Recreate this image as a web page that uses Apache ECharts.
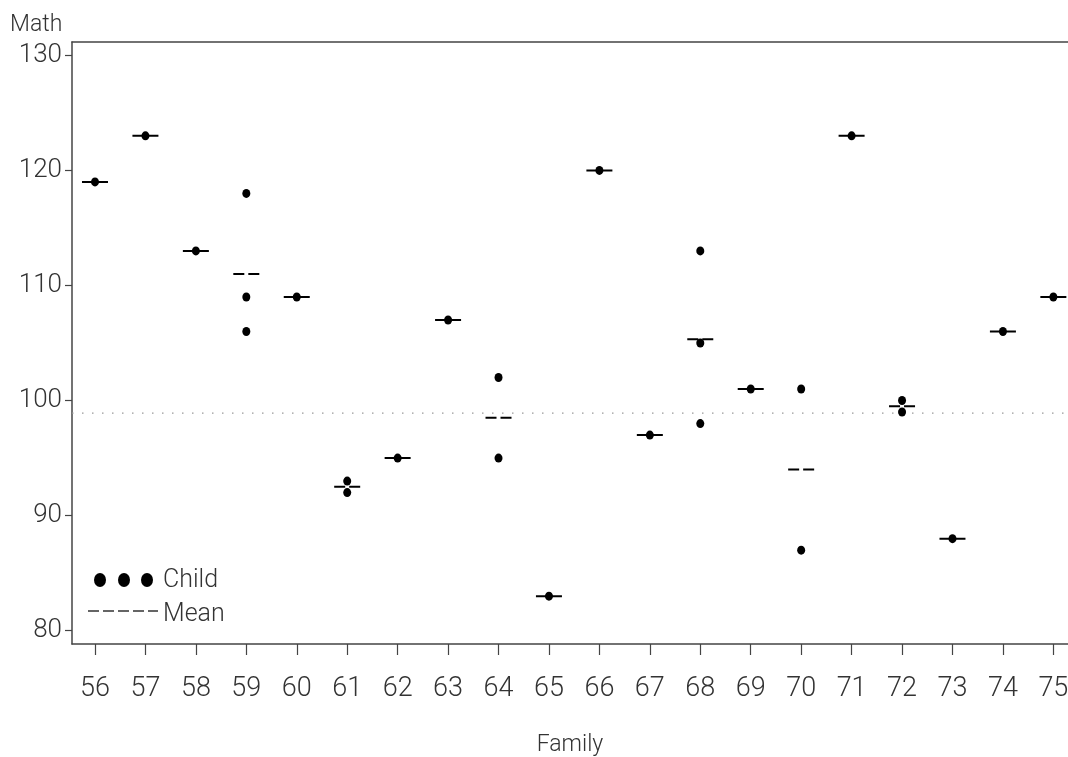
<!DOCTYPE html>
<html>
<head>
<meta charset="utf-8">
<script src="https://cdn.jsdelivr.net/npm/echarts@6/dist/echarts.min.js"></script>
<style>html,body{margin:0;padding:0;background:#fff}#c{width:1068px;height:757px}</style>
</head>
<body>
<div id="c"></div>
<script>
// ---- data ----
const families = [56,57,58,59,60,61,62,63,64,65,66,67,68,69,70,71,72,73,74,75];
const childScores = [
  [119],[123],[113],[118,109,106],[109],[93,92],[95],[107],[102,95],[83],
  [120],[97],[113,105,98],[101],[101,87],[123],[100,99],[88],[106],[109]
];
const familyMeans = [119,123,113,111,109,92.5,95,107,98.5,83,120,97,105.33,101,94,123,99.5,88,106,109];
const referenceLevel = [98.9];
const yTicks = [80,90,100,110,120,130];
const xTicks = families;

const childPoints = [];
families.forEach((f,i)=>childScores[i].forEach(v=>childPoints.push([f,v])));
const meanPoints = families.map((f,i)=>[f,familyMeans[i]]);

const FONT = "'Roboto','Liberation Sans',sans-serif";
const AX = '#444';
const chart = echarts.init(document.getElementById('c'), null, {renderer:'canvas'});
const xMin = 55.544, xMax = 75.29;
chart.setOption({
  animation:false,
  backgroundColor:'#fff',
  grid:{left:72, right:0, top:42, bottom:113, containLabel:false, outerBoundsMode:'none'},
  xAxis:[{
    type:'value', min:xMin, max:xMax,
    name:'Family', nameLocation:'middle', nameGap:90,
    nameTextStyle:{fontFamily:FONT, fontSize:23, fontWeight:300, color:'#333'},
    axisLine:{show:true, onZero:false, lineStyle:{color:AX, width:1.5}},
    axisTick:{show:true, length:11, customValues:xTicks, lineStyle:{color:AX, width:1.2}},
    axisLabel:{customValues:xTicks, margin:32, fontFamily:FONT, fontSize:27, fontWeight:300, color:'#333'},
    splitLine:{show:false}
  },{
    type:'value', position:'top', min:xMin, max:xMax,
    axisLine:{show:true, onZero:false, lineStyle:{color:AX, width:1.5}},
    axisTick:{show:false}, axisLabel:{show:false}, splitLine:{show:false}
  }],
  yAxis:{
    type:'value', min:78.845, max:131.155,
    axisLine:{show:true, onZero:false, lineStyle:{color:AX, width:1.5}},
    axisTick:{show:true, length:7, customValues:yTicks, lineStyle:{color:AX, width:1.2}},
    axisLabel:{customValues:yTicks, margin:10, fontFamily:FONT, fontSize:26, fontWeight:300, color:'#333'},
    splitLine:{show:false}
  },
  graphic:[
    {type:'text', left:10, top:14, style:{text:'Math', font:`300 23px ${FONT}`, fill:'#333'}},
    {type:'circle', shape:{cx:100, cy:580, r:6}, scaleY:1.15, originX:100, originY:580, style:{fill:'#000'}},
    {type:'circle', shape:{cx:124, cy:580, r:6}, scaleY:1.15, originX:124, originY:580, style:{fill:'#000'}},
    {type:'circle', shape:{cx:147, cy:580, r:6}, scaleY:1.15, originX:147, originY:580, style:{fill:'#000'}},
    {type:'text', left:163, top:568, style:{text:'Child', font:`300 25px ${FONT}`, fill:'#333'}},
    {type:'line', shape:{x1:88, y1:611, x2:158, y2:611}, style:{stroke:'#333', lineWidth:1.3, lineDash:[11,4]}},
    {type:'text', left:163, top:602, style:{text:'Mean', font:`300 25px ${FONT}`, fill:'#333'}}
  ],
  series:[
    {
      type:'line', silent:true, symbol:'none',
      data:[[xMin, referenceLevel[0]],[xMax, referenceLevel[0]]],
      lineStyle:{color:'#999', width:1.2, type:[1.5,8.5]}, z:1
    },
    {
      type:'custom', silent:true, z:2,
      data:meanPoints,
      renderItem:function(params, api){
        const x = api.value(0), y = api.value(1);
        const p1 = api.coord([x-0.258, y]);
        const p2 = api.coord([x+0.258, y]);
        return {type:'line', shape:{x1:p1[0], y1:p1[1], x2:p2[0], y2:p2[1]},
          style:{stroke:'#000', lineWidth:2, lineDash:[11,4]}};
      }
    },
    {
      type:'scatter', z:3, data:childPoints,
      symbol:'circle', symbolSize:[8,9],
      itemStyle:{color:'#000', opacity:1}
    }
  ]
});
</script>
</body>
</html>
